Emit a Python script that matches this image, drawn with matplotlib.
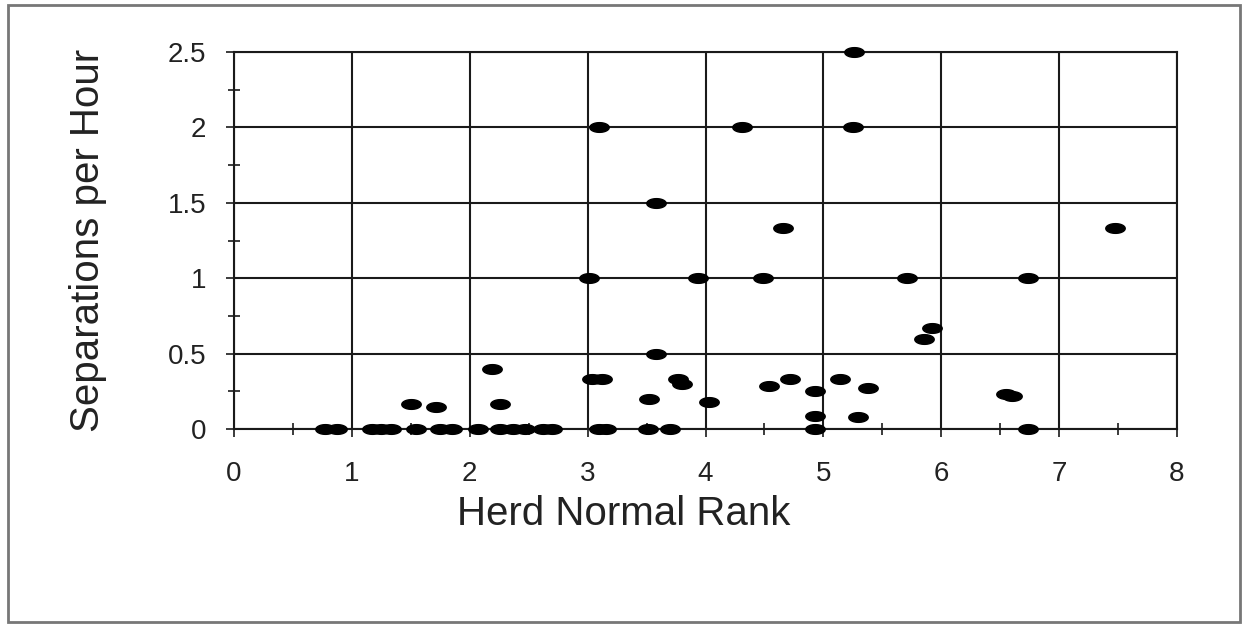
import numpy as np
import matplotlib.pyplot as plt
from matplotlib.path import Path
from matplotlib.patches import Rectangle
from matplotlib.ticker import MultipleLocator

plt.rcParams['font.family'] = ['Liberation Sans', 'DejaVu Sans']

# herd normal rank vs separations per hour
rank = [0.77, 0.87, 1.17, 1.25, 1.33, 1.54, 1.75, 1.85, 2.07, 2.26, 2.37, 2.47,
        2.62, 2.70, 3.10, 3.16, 3.51, 3.70, 4.93, 6.74,
        1.50, 1.71, 2.19, 2.26, 3.04, 3.12, 3.77, 3.80, 3.52, 4.03,
        4.54, 4.72, 4.93, 5.14, 5.38, 4.93, 5.29, 6.55, 6.60,
        3.58, 5.85, 5.92,
        3.01, 3.94, 4.49, 5.71, 6.74,
        4.66, 7.47, 3.58,
        3.10, 4.31, 5.25, 5.26]
seps = [0, 0, 0, 0, 0, 0, 0, 0, 0, 0, 0, 0,
        0, 0, 0, 0, 0, 0, 0, 0,
        0.167, 0.143, 0.40, 0.167, 0.333, 0.333, 0.333, 0.30, 0.20, 0.18,
        0.286, 0.333, 0.25, 0.333, 0.273, 0.083, 0.077, 0.23, 0.22,
        0.50, 0.60, 0.667,
        1.0, 1.0, 1.0, 1.0, 1.0,
        1.333, 1.333, 1.5,
        2.0, 2.0, 2.0, 2.5]

W, H = 1244, 626

# flat elliptical marker
t = np.linspace(0, 2 * np.pi, 40)
ellipse = Path(np.column_stack([np.cos(t), 0.5 * np.sin(t)]), closed=True)

fig = plt.figure(figsize=(W / 100, H / 100), dpi=100)
fig.patches.append(Rectangle((8 / W, 4 / H), 1232 / W, 617 / H,
                             transform=fig.transFigure, fill=False,
                             edgecolor='#777777', linewidth=2))

ax = fig.add_axes([234 / W, 1 - 429 / H, 943 / W, 377 / H])
ax.set_xlim(0, 8)
ax.set_ylim(0, 2.5)
ax.xaxis.set_major_locator(MultipleLocator(1))
ax.xaxis.set_minor_locator(MultipleLocator(0.5))
ax.yaxis.set_major_locator(MultipleLocator(0.5))
ax.yaxis.set_minor_locator(MultipleLocator(0.25))
ax.yaxis.set_major_formatter(plt.FuncFormatter(lambda v, p: f'{v:g}'))

ax.grid(True, which='major', color='#1a1a1a', linewidth=1.5)
for s in ax.spines.values():
    s.set_color('#1a1a1a')
    s.set_linewidth(1.5)

ax.tick_params(which='major', direction='out', length=6, width=1.2,
               color='#1a1a1a', labelsize=20, labelcolor='#222222')
ax.tick_params(axis='x', which='major', pad=17)
ax.tick_params(axis='y', which='major', pad=14)
ax.tick_params(which='minor', direction='inout', length=8, width=1.2,
               color='#1a1a1a')

ax.plot(rank, seps, linestyle='none', marker=ellipse, markersize=14,
        color='black', zorder=5, clip_on=False)

# axis titles placed in pixel coordinates
fig.text(624 / W, 1 - 525 / H, 'Herd Normal Rank', fontsize=29,
         color='#222222', ha='center', va='baseline')
fig.text(99 / W, 1 - 240 / H, 'Separations per Hour', fontsize=29,
         color='#222222', ha='center', va='baseline', rotation=90,
         rotation_mode='anchor')

fig.savefig('out.png', dpi=100)
